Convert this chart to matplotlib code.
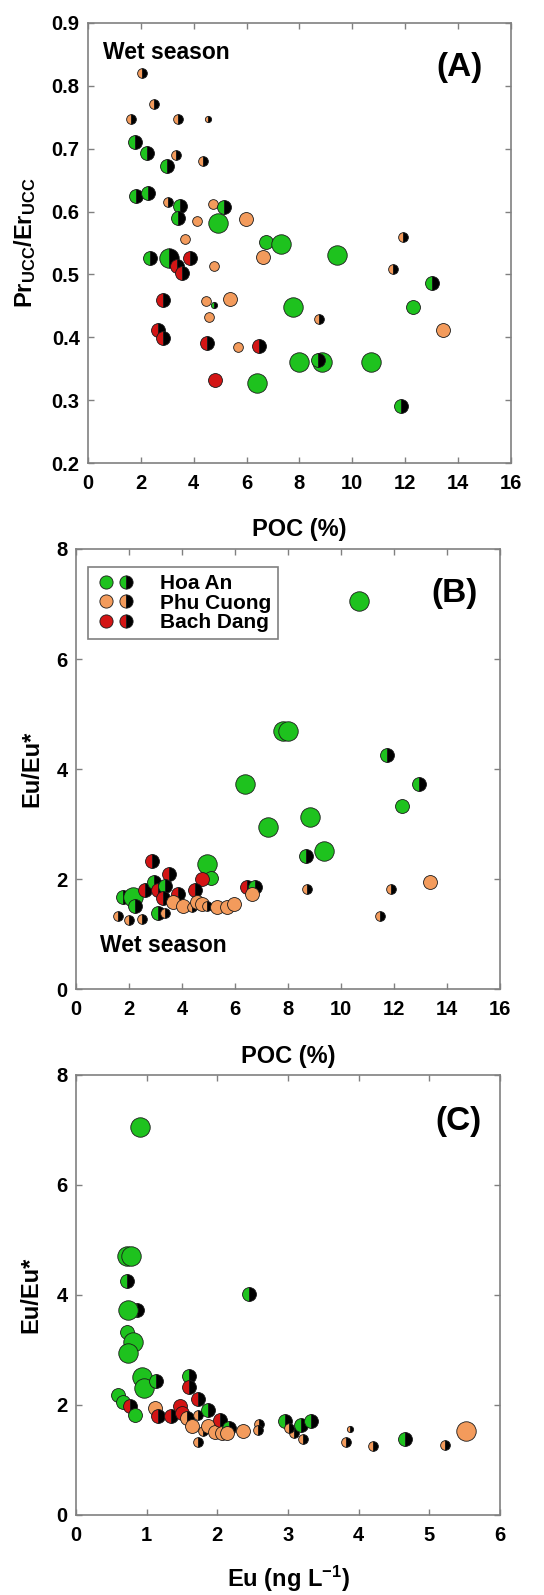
import matplotlib
matplotlib.use('Agg')
import matplotlib.pyplot as plt
from matplotlib.legend_handler import HandlerTuple
from matplotlib.lines import Line2D

plt.rcParams['font.family'] = ['Liberation Sans', 'DejaVu Sans']
plt.rcParams['font.weight'] = 'bold'
plt.rcParams['mathtext.fontset'] = 'custom'
plt.rcParams['mathtext.rm'] = 'Liberation Sans:bold'
plt.rcParams['mathtext.it'] = 'Liberation Sans:bold'
plt.rcParams['mathtext.bf'] = 'Liberation Sans:bold'
plt.rcParams['mathtext.default'] = 'regular'

# ---------------- data ----------------
site_names = {'H': 'Hoa An', 'P': 'Phu Cuong', 'B': 'Bach Dang'}
site_order = ['H', 'P', 'B']

# Panel A: POC (%) vs Pr_UCC/Er_UCC
a_poc = [2.03, 2.50, 1.63, 3.42, 4.55, 1.78, 2.22, 3.33, 4.36, 3.00,
         1.82, 2.28, 3.01, 3.48, 4.74, 5.14, 3.42, 4.11, 4.93, 5.96,
         3.67, 6.72, 7.30, 6.63, 9.43, 11.93, 11.52, 13.00, 2.34, 3.06,
         3.35, 3.86, 3.54, 4.75, 2.85, 4.45, 4.77, 5.37, 7.77, 12.30,
         4.59, 8.74, 13.41, 2.66, 2.85, 4.51, 5.69, 6.48, 4.80, 6.38,
         8.00, 8.84, 8.71, 10.69, 11.83]
a_ratio = [0.821, 0.771, 0.747, 0.747, 0.747, 0.710, 0.693, 0.690, 0.681, 0.673,
           0.624, 0.630, 0.615, 0.609, 0.612, 0.608, 0.589, 0.585, 0.582, 0.588,
           0.556, 0.551, 0.548, 0.527, 0.531, 0.559, 0.508, 0.487, 0.526, 0.526,
           0.514, 0.526, 0.502, 0.513, 0.459, 0.458, 0.452, 0.461, 0.448, 0.448,
           0.432, 0.429, 0.412, 0.412, 0.399, 0.391, 0.385, 0.386, 0.332, 0.328,
           0.361, 0.361, 0.364, 0.361, 0.290]
a_site = list("PPPPPHHPPH" "HHPHPHHPHP" "PHHPHPPHHH" "BBBPBPHPHH" "PPPBBBPBBH" "HHHHH")
a_fill = list("hhhhhhhhhh" "hhhhfhhfff" "fffffhhhhh" "hhhfhfhfff" "fhfhhhfhff" "ffhfh")
a_size = list("SSSSTMMSSM" "MMSMSMMSLM" "SMLMLSSMML" "MMMSMSTMLM" "SSMMMMSMML" "LLMLM")

# Panel B: POC (%) vs Eu/Eu*
b_poc = [10.67, 7.80, 8.00, 11.75, 6.38, 12.96, 12.29, 8.83, 7.26, 8.68,
         9.37, 13.36, 8.70, 11.87, 11.47, 2.86, 3.52, 4.93, 5.08, 4.74,
         4.49, 6.44, 6.75, 6.65, 1.79, 2.16, 2.23, 2.60, 2.96, 3.11,
         3.36, 3.30, 3.86, 3.11, 3.36, 3.67, 4.05, 4.37, 4.55, 4.74,
         4.93, 5.33, 5.69, 5.97, 1.60, 2.01, 2.48]
b_eu = [7.05, 4.70, 4.70, 4.25, 3.72, 3.73, 3.33, 3.13, 2.94, 2.42,
        2.51, 1.94, 1.82, 1.82, 1.33, 2.33, 2.10, 2.27, 2.02, 2.00,
        1.80, 1.85, 1.85, 1.72, 1.68, 1.68, 1.51, 1.80, 1.95, 1.80,
        1.87, 1.65, 1.73, 1.39, 1.39, 1.59, 1.51, 1.50, 1.59, 1.55,
        1.51, 1.49, 1.49, 1.54, 1.33, 1.25, 1.27]
b_site = list("HHHHHHHHHH" "HPPPPBBHHB" "BBHPHHHBHB" "HBBHPPPPPP" "PPPPPPP")
b_fill = list("fffhfhfffh" "ffhhhhhfff" "hhhfhfhhhh" "hhhhhffhff" "hfffhhh")
b_size = list("LLLMLMMLLM" "LMSSSMMLMM" "MMMMMLMMMM" "MMMMSMMSMM" "SMMMSSS")

# Panel C: Eu (ng/L) vs Eu/Eu*
c_eu_conc = [0.90, 0.72, 0.78, 0.72, 2.45, 0.87, 0.74, 0.72, 0.80, 0.74,
             0.93, 0.96, 1.13, 1.60, 1.60, 1.73, 0.60, 0.67, 0.76, 0.83,
             1.12, 1.16, 1.35, 1.47, 1.50, 1.57, 1.64, 1.72, 1.87, 1.73,
             1.80, 1.87, 1.97, 2.04, 2.06, 2.16, 2.13, 2.36, 2.59, 2.58,
             2.96, 3.08, 3.21, 3.19, 3.33, 3.02, 3.82, 3.88, 4.20, 4.65,
             5.22, 5.52]
c_eu = [7.05, 4.70, 4.70, 4.26, 4.01, 3.72, 3.72, 3.33, 3.15, 2.94,
        2.51, 2.30, 2.44, 2.53, 2.32, 2.11, 2.18, 2.05, 1.98, 1.82,
        1.95, 1.79, 1.79, 1.98, 1.85, 1.76, 1.61, 1.82, 1.91, 1.33,
        1.53, 1.62, 1.51, 1.73, 1.49, 1.58, 1.49, 1.53, 1.65, 1.55,
        1.70, 1.49, 1.38, 1.64, 1.71, 1.58, 1.33, 1.56, 1.26, 1.38,
        1.27, 1.53]
c_site = list("HHHHHHHHHH" "HHHHBBHHBH" "PBBBBPPPHP" "PPPBPHPPPP" "HPPHHPPPPH" "PP")
c_fill = list("fffhhhffff" "ffhhhhffhf" "fhhffhfhhh" "hffhfhffhh" "hhhhhhhhhh" "hf")
c_size = list("LLLMMMLMLL" "LLMMMMMMMM" "MMMMMMMSMS" "SMMMMMMMSS" "MSSMMSSTSM" "SL")

# ---------------- styles ----------------
SITE_COLORS = {'H': '#1ec21e', 'P': '#f39b5c', 'B': '#d31515'}
SIZE_PT = {'L': 14.0, 'M': 10.0, 'S': 7.0, 'T': 4.5}
GRAY = '#808080'


def draw(ax, xs, ys, sites, fills, sizes):
    for x, y, s, f, z in zip(xs, ys, sites, fills, sizes):
        kw = dict(marker='o', ls='none', ms=SIZE_PT[z], mfc=SITE_COLORS[s],
                  mec='#1a1a1a', mew=0.6)
        if f == 'h':
            kw.update(fillstyle='left', markerfacecoloralt='black')
        ax.plot([x], [y], **kw)


def style(ax, xlim, ylim, xticks, yticks, ylabels=None):
    ax.set_xlim(*xlim)
    ax.set_ylim(*ylim)
    ax.set_xticks(xticks)
    ax.set_yticks(yticks)
    if ylabels is not None:
        ax.set_yticklabels(ylabels)
    ax.tick_params(direction='in', top=True, right=True, length=4, width=1,
                   color=GRAY, labelsize=14.5)
    ax.tick_params(axis='x', pad=8)
    ax.tick_params(axis='y', pad=6)
    for sp in ax.spines.values():
        sp.set_color(GRAY)
        sp.set_linewidth(1.2)


fig = plt.figure(figsize=(5.44, 15.95), dpi=100)
axA = fig.add_axes([0.1618, 0.7097, 0.7775, 0.2759])
axB = fig.add_axes([0.1397, 0.3799, 0.7794, 0.2759])
axC = fig.add_axes([0.1397, 0.0502, 0.7794, 0.2759])

# Panel A
draw(axA, a_poc, a_ratio, a_site, a_fill, a_size)
style(axA, (0, 16), (0.2, 0.9), range(0, 17, 2),
      [0.2, 0.3, 0.4, 0.5, 0.6, 0.7, 0.8, 0.9],
      ['0.2', '0.3', '0.4', '0.5', '0.6', '0.7', '0.8', '0.9'])
axA.set_xlabel('POC (%)', fontsize=17, fontweight='bold')
axA.set_ylabel(r'Pr$_{UCC}$/Er$_{UCC}$', fontsize=17, fontweight='bold')
axA.xaxis.set_label_coords(0.5, -0.125)
axA.yaxis.set_label_coords(-0.118, 0.5)
axA.text(0.035, 0.934, 'Wet season', transform=axA.transAxes, fontsize=16.5,
         fontweight='bold', ha='left', va='center')
axA.text(0.879, 0.898, '(A)', transform=axA.transAxes, fontsize=24,
         fontweight='bold', ha='center', va='center')

# Panel B
draw(axB, b_poc, b_eu, b_site, b_fill, b_size)
style(axB, (0, 16), (0, 8), range(0, 17, 2), range(0, 9, 2))
axB.set_xlabel('POC (%)', fontsize=17, fontweight='bold')
axB.set_ylabel('Eu/Eu*', fontsize=17, fontweight='bold')
axB.xaxis.set_label_coords(0.5, -0.127)
axB.yaxis.set_label_coords(-0.078, 0.5)
axB.text(0.057, 0.098, 'Wet season', transform=axB.transAxes, fontsize=16.5,
         fontweight='bold', ha='left', va='center')
axB.text(0.892, 0.9, '(B)', transform=axB.transAxes, fontsize=24,
         fontweight='bold', ha='center', va='center')

handles = []
for s in site_order:
    full = Line2D([], [], marker='o', ls='none', ms=9.5, mfc=SITE_COLORS[s],
                  mec='#1a1a1a', mew=0.6)
    half = Line2D([], [], marker='o', ls='none', ms=9.5, mfc=SITE_COLORS[s],
                  mec='#1a1a1a', mew=0.6, fillstyle='left',
                  markerfacecoloralt='black')
    handles.append((full, half))
leg = axB.legend(handles, [site_names[s] for s in site_order],
                 handler_map={tuple: HandlerTuple(ndivide=None, pad=0)},
                 loc='upper left', bbox_to_anchor=(0.028, 0.959),
                 borderaxespad=0, frameon=True, fancybox=False,
                 edgecolor=GRAY, framealpha=1, handlelength=2.0,
                 handletextpad=1.1, labelspacing=0.02, borderpad=0.35,
                 prop={'size': 15, 'weight': 'bold'})
leg.get_frame().set_linewidth(1.2)

# Panel C
draw(axC, c_eu_conc, c_eu, c_site, c_fill, c_size)
style(axC, (0, 6), (0, 8), range(0, 7), range(0, 9, 2))
axC.set_xlabel(r'Eu (ng L$^{-1}$)', fontsize=17, fontweight='bold')
axC.set_ylabel('Eu/Eu*', fontsize=17, fontweight='bold')
axC.xaxis.set_label_coords(0.5, -0.112)
axC.yaxis.set_label_coords(-0.08, 0.5)
axC.text(0.903, 0.893, '(C)', transform=axC.transAxes, fontsize=24,
         fontweight='bold', ha='center', va='center')

fig.savefig('out.png', dpi=100)
